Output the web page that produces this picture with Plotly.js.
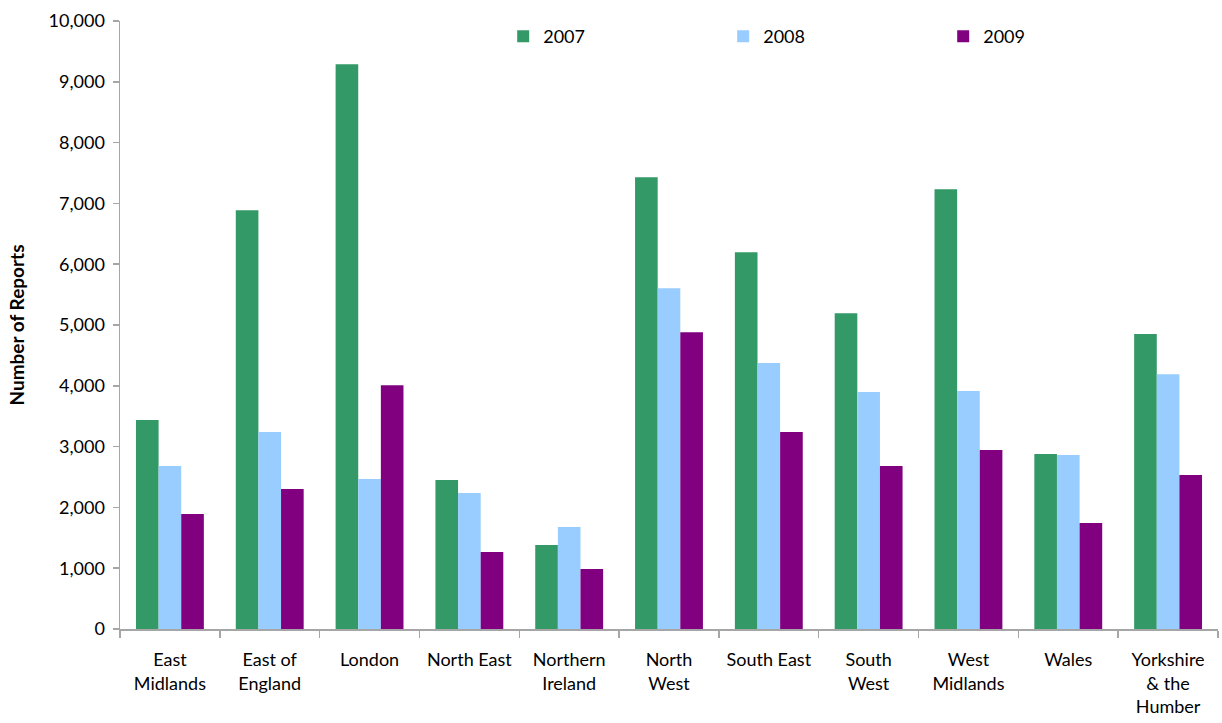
<!DOCTYPE html>
<html>
<head>
<meta charset="utf-8">
<script src="https://cdn.plot.ly/plotly-3.0.1.min.js"></script>
<style>html,body{margin:0;padding:0;background:#fff;}#chart{width:1222px;height:723px;}</style>
</head>
<body>
<div id="chart"></div>
<script>
const regions = ["East<br>Midlands","East of<br>England","London","North East","Northern<br>Ireland","North<br>West","South East","South<br>West","West<br>Midlands","Wales","Yorkshire<br>& the<br>Humber"];
const years = ["2007","2008","2009"];
const v2007 = [3436, 6888, 9288, 2449, 1381, 7431, 6198, 5195, 7233, 2877, 4850];
const v2008 = [2680, 3239, 2466, 2236, 1677, 5606, 4373, 3896, 3913, 2860, 4192];
const v2009 = [1890, 2301, 4011, 1266, 986, 4882, 3239, 2680, 2943, 1743, 2532];
const colors = ["#339966", "#99CCFF", "#800080"];
const series = [v2007, v2008, v2009];
const FONT = "Lato, 'Open Sans', sans-serif";

const data = series.map((vals, i) => ({
  type: "bar",
  name: years[i],
  x: regions,
  y: vals,
  marker: {color: colors[i]},
  hoverinfo: "x+y"
}));

const layout = {
  width: 1222, height: 723,
  margin: {l: 120, r: 4, t: 21, b: 94},
  paper_bgcolor: "#fff", plot_bgcolor: "#fff",
  font: {family: FONT, size: 18, color: "#000"},
  barmode: "group",
  bargap: 0.32,
  bargroupgap: 0,
  showlegend: true,
  legend: {
    orientation: "h",
    x: 0.349, xanchor: "left",
    y: 1.005, yanchor: "top",
    entrywidth: 175, entrywidthmode: "pixels",
    font: {family: FONT, size: 18},
    bgcolor: "rgba(0,0,0,0)",
    itemwidth: 30,
    traceorder: "normal"
  },
  xaxis: {
    type: "category",
    showline: true, linecolor: "#a6a6a6", linewidth: 1.5,
    ticks: "outside", tickson: "boundaries", ticklen: 7, tickcolor: "#a6a6a6", tickwidth: 1.5,
    showgrid: false, zeroline: false,
    tickangle: 0,
    tickfont: {family: FONT, size: 18},
    ticklabelstandoff: 14,
    fixedrange: true
  },
  yaxis: {
    range: [0, 10000],
    tickvals: [0,1000,2000,3000,4000,5000,6000,7000,8000,9000,10000],
    tickformat: ",d",
    showline: true, linecolor: "#a6a6a6", linewidth: 1.5,
    ticks: "outside", ticklen: 6, tickcolor: "#a6a6a6", tickwidth: 1.5,
    showgrid: false, zeroline: false,
    tickfont: {family: FONT, size: 18},
    ticklabelstandoff: 4,
    title: {text: "<b>Number of Reports</b>", font: {family: FONT, size: 19}, standoff: 19},
    fixedrange: true
  }
};

Plotly.newPlot("chart", data, layout, {displayModeBar: false, staticPlot: true});
</script>
</body>
</html>
